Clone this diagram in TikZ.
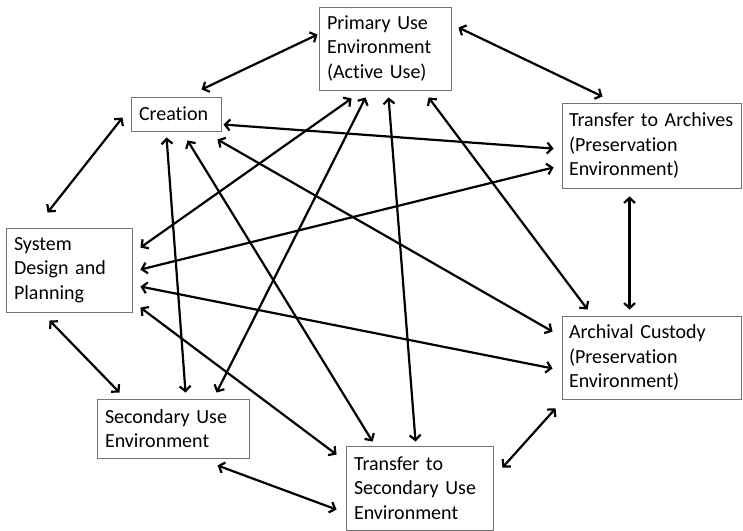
\documentclass[tikz,border=0pt]{standalone}
\usepackage{fontspec}
\setmainfont[Ligatures=NoCommon]{Carlito}
\usetikzlibrary{arrows.meta}
\begin{document}
\begin{tikzpicture}[x=1pt, y=-1pt,
    >={Straight Barb[length=5pt,width=11pt]},
    box/.style={draw=black!55, line width=0.9pt, inner xsep=8pt, inner ysep=0pt,
      align=left, font=\fontsize{20}{24.5}\selectfont},
    link/.style={<->, line width=2.2pt}]
  \useasboundingbox (0,0) rectangle (743,530);
  % Boxes
  \node[box, text width=116pt, minimum height=83pt] (prim) at (385,48.5)
    {Primary Use\\Environment\\(Active Use)};
  \node[box, text width=74pt, minimum height=34pt] (crea) at (176,114) {Creation};
  \node[box, inner xsep=7pt, text width=165pt, minimum height=85pt] (tta) at (651.5,145.5)
    {Transfer to Archives\\(Preservation\\Environment)};
  \node[box, text width=110pt, minimum height=84pt] (sys) at (69,270)
    {System\\Design and\\Planning};
  \node[box, inner xsep=7pt, text width=165pt, minimum height=83pt] (arch) at (651.5,357.5)
    {Archival Custody\\(Preservation\\Environment)};
  \node[box, text width=136pt, minimum height=59pt] (sec) at (173,428.5)
    {Secondary Use\\Environment};
  \node[box, text width=131pt, minimum height=84pt] (tts) at (419.5,488)
    {Transfer to\\Secondary Use\\Environment};
  % Arrows from Creation
  \draw[link] ([xshift=71pt,yshift=7pt]crea.north west) -- ([xshift=-1pt,yshift=-28pt]prim.north west);
  \draw[link] ([xshift=-8pt,yshift=-21pt]crea.north west) -- ([xshift=42pt,yshift=15pt]sys.north west);
  \draw[link] ([xshift=2pt,yshift=-28pt]crea.north east) -- ([xshift=-8pt,yshift=-46pt]tta.north west);
  \draw[link] ([xshift=36pt,yshift=-6pt]crea.south west) -- ([xshift=89pt,yshift=6pt]sec.north west);
  \draw[link] ([xshift=57pt,yshift=-9pt]crea.south west) -- ([xshift=27pt,yshift=4pt]tts.north west);
  \draw[link] ([xshift=-4pt,yshift=-8pt]crea.south east) -- ([xshift=-9pt,yshift=-16pt]arch.north west);
  % Arrows from Primary Use
  \draw[link] ([xshift=7pt,yshift=-21pt]prim.north east) -- ([xshift=41pt,yshift=6pt]tta.north west);
  \draw[link] ([xshift=33pt,yshift=-8pt]prim.south west) -- ([xshift=8pt,yshift=-20pt]sys.north east);
  \draw[link] ([xshift=47pt,yshift=-7pt]prim.south west) -- ([xshift=120pt,yshift=6pt]sec.north west);
  \draw[link] ([xshift=70pt,yshift=-7pt]prim.south west) -- ([xshift=70pt,yshift=4pt]tts.north west);
  \draw[link] ([xshift=110pt,yshift=-7pt]prim.south west) -- ([xshift=26pt,yshift=6pt]arch.north west);
  % Arrows from System Design
  \draw[link] ([xshift=8pt,yshift=-42pt]sys.north east) -- ([xshift=-8pt,yshift=21pt]tta.south west);
  \draw[link] ([xshift=8pt,yshift=-59pt]sys.north east) -- ([xshift=-9pt,yshift=31pt]arch.south west);
  \draw[link] ([xshift=8pt,yshift=-80pt]sys.north east) -- ([xshift=-9pt,yshift=-9pt]tts.north west);
  \draw[link] ([xshift=44pt,yshift=-8pt]sys.south west) -- ([xshift=23pt,yshift=6pt]sec.north west);
  % Remaining arrows
  \draw[link] ([xshift=68pt,yshift=-8pt]tta.south west) -- ([xshift=68pt,yshift=6pt]arch.north west);
  \draw[link] ([xshift=-6pt,yshift=-9pt]arch.south west) -- ([xshift=9pt,yshift=-22pt]tts.north east);
  \draw[link] ([xshift=-32pt,yshift=-7pt]sec.south east) -- ([xshift=-9pt,yshift=-64pt]tts.north west);
\end{tikzpicture}
\end{document}
